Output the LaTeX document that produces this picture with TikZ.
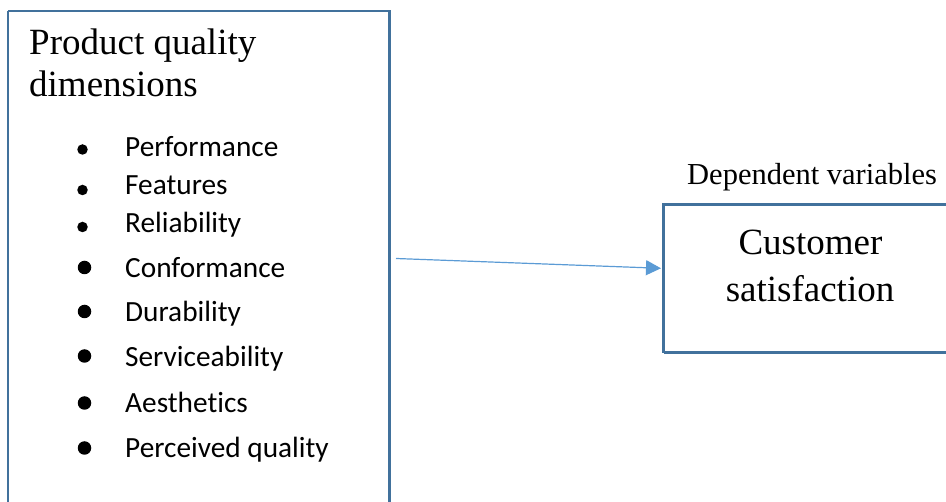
\documentclass[tikz,border=0pt]{standalone}
\usepackage{fontspec}
\setmainfont{Liberation Serif}
\newfontfamily\calib[Ligatures=NoCommon]{Carlito}
\usetikzlibrary{arrows.meta}
\definecolor{boxblue}{HTML}{41719C}
\definecolor{arrowblue}{HTML}{5B9BD5}
\tikzset{
  frame/.style={draw=boxblue, line width=2.6pt},
  head/.style={anchor=base west, inner sep=0pt, font=\fontsize{37}{42}\selectfont},
  dep/.style={anchor=base west, inner sep=0pt, font=\fontsize{30.5}{34}\selectfont},
  item/.style={anchor=base west, inner sep=0pt, font=\calib\fontsize{29.3}{34}\selectfont},
  bulsmall/.style={circle, fill=black, inner sep=0pt, minimum size=10.5pt},
  bulbig/.style={circle, fill=black, inner sep=0pt, minimum size=13.5pt},
  link/.style={draw=arrowblue, line width=1.2pt, -{Triangle[length=15pt,width=15pt]}}
}
\begin{document}
\begin{tikzpicture}[x=1pt,y=-1pt]
\useasboundingbox (0,0) rectangle (946,502);
\clip (0,0) rectangle (946,502);
% left box
\draw[frame, line width=2.3pt] (8,11) -- (389.5,11) -- (389.5,520) (8,520) -- (8,11);
\node[head] (h1) at (29,55) {Product quality};
\node[head] (h2) at (29,97) {dimensions};
% bullets
\node[bulsmall] (b1) at (82.5,149.5) {};
\node[bulsmall] (b2) at (82.5,190) {};
\node[bulsmall] (b3) at (82.5,227) {};
\node[bulbig] (b4) at (84.5,267.5) {};
\node[bulbig] (b5) at (84.5,311.5) {};
\node[bulbig] (b6) at (84.5,356) {};
\node[bulbig] (b7) at (84.5,403) {};
\node[bulbig] (b8) at (84.5,448) {};
\node[item] (t1) at (125,157) {Performance};
\node[item] (t2) at (125,195) {Features};
\node[item] (t3) at (125,233) {Reliability};
\node[item] (t4) at (125,278) {Conformance};
\node[item] (t5) at (125,322) {Durability};
\node[item] (t6) at (125,367) {Serviceability};
\node[item] (t7) at (125,413) {Aesthetics};
\node[item] (t8) at (125,458) {Perceived quality};
% right box
\draw[frame] (663.5,352.7) -- (663.5,204.7) -- (960,204.7) (960,352.7) -- (663.5,352.7);
\node[dep] (dv) at (687,185) {Dependent variables};
\node[head, anchor=base] (c1) at (810.5,255) {Customer};
\node[head, anchor=base] (c2) at (810,302) {satisfaction};
% arrow
\coordinate (src) at (396,258.5);
\coordinate (dst) at (661,268.3);
\draw[link] (src) -- (dst);
\end{tikzpicture}
\end{document}
